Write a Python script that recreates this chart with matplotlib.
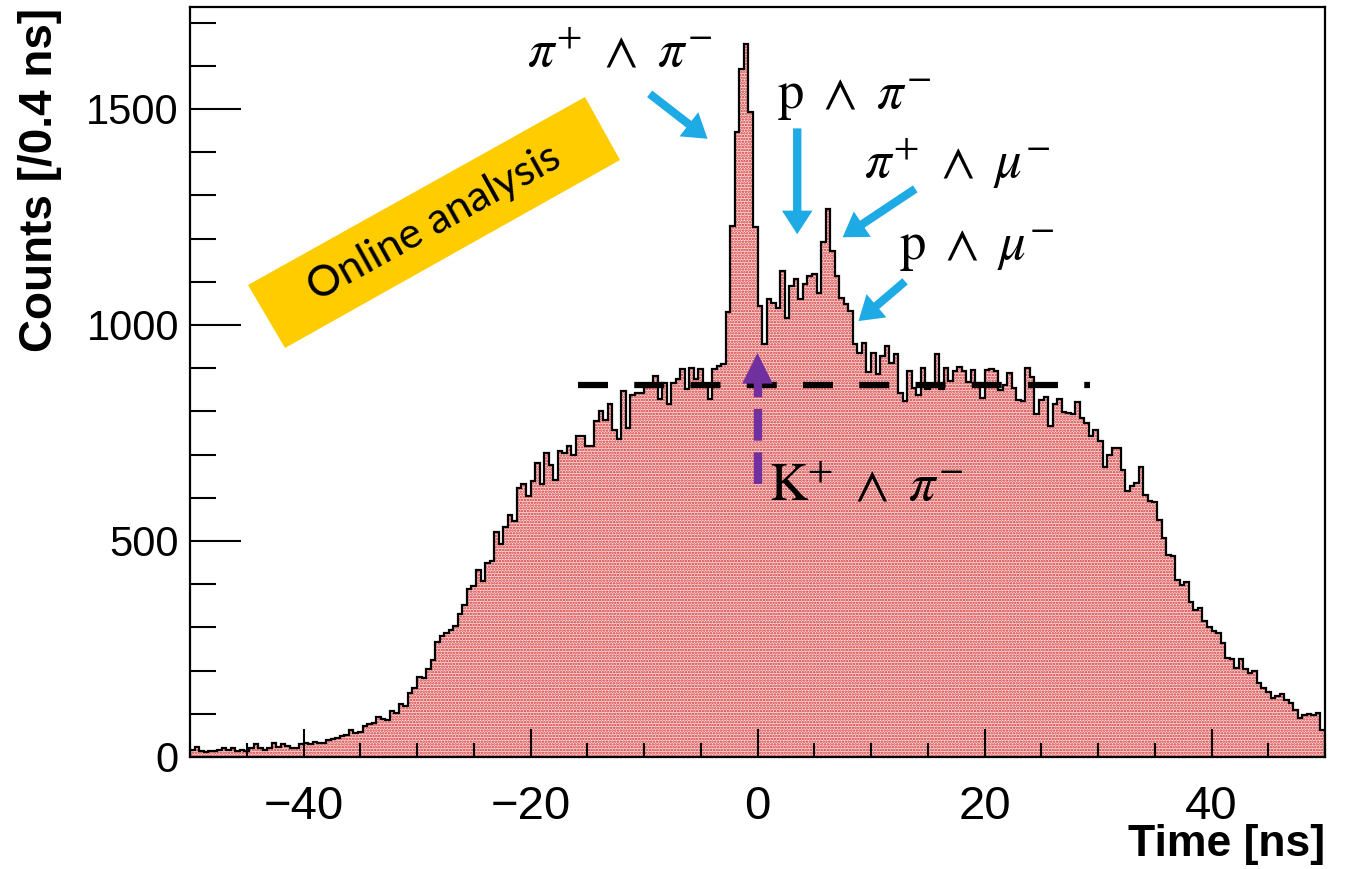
import numpy as np
import matplotlib
matplotlib.use("Agg")
import matplotlib.pyplot as plt
from matplotlib import font_manager
from matplotlib.patches import Polygon
from matplotlib.ticker import MultipleLocator

# histogram: 250 bins of 0.4 ns from -50 ns
t_start = -50.0
bin_width = 0.4
counts = [
    16, 23, 14, 12, 14, 14, 17, 21, 17, 21,
    14, 17, 14, 21, 30, 21, 17, 21, 33, 23,
    30, 26, 21, 21, 30, 32, 30, 35, 32, 32,
    39, 41, 44, 48, 51, 63, 56, 57, 71, 76,
    79, 92, 88, 85, 107, 103, 123, 118, 149, 159,
    186, 182, 203, 225, 267, 279, 287, 294, 304, 332,
    351, 389, 395, 432, 407, 449, 454, 521, 492, 533,
    559, 546, 623, 632, 604, 638, 681, 631, 703, 677,
    641, 708, 704, 720, 700, 743, 743, 720, 720, 778,
    801, 781, 816, 758, 737, 847, 762, 839, 843, 843,
    857, 857, 882, 828, 866, 816, 866, 874, 897, 851,
    901, 874, 897, 862, 828, 897, 905, 909, 1030, 1228,
    1446, 1593, 1651, 1494, 1227, 1045, 955, 1060, 1052, 1040,
    1125, 1017, 1091, 1106, 1060, 1094, 1114, 1118, 1075, 1191,
    1268, 1172, 1114, 1063, 1048, 1033, 955, 936, 959, 890,
    936, 886, 928, 951, 913, 932, 843, 824, 893, 855,
    839, 901, 851, 862, 932, 851, 901, 870, 893, 903,
    893, 868, 896, 866, 832, 896, 899, 893, 849, 862,
    888, 855, 826, 824, 900, 880, 795, 826, 834, 766,
    816, 828, 798, 797, 793, 822, 785, 774, 743, 758,
    731, 672, 700, 716, 716, 665, 615, 627, 635, 672,
    606, 592, 590, 549, 507, 468, 465, 410, 399, 404,
    358, 341, 345, 314, 302, 291, 287, 265, 229, 226,
    206, 226, 203, 194, 200, 171, 159, 151, 136, 141,
    146, 132, 124, 109, 90, 97, 100, 97, 101, 63,
]

# annotations: label, text position, arrow tail, arrow head (data coords)
labels = [r"$\pi^{+}\ \wedge\ \pi^{-}$", r"$\mathrm{p}\ \wedge\ \pi^{-}$",
          r"$\pi^{+}\ \wedge\ \mu^{-}$", r"$\mathrm{p}\ \wedge\ \mu^{-}$"]
label_xy = [(-20.3, 1630), (1.7, 1525), (9.4, 1375), (12.5, 1177)]
arrow_from = [(-9.5, 1535), (3.5, 1455), (13.9, 1315), (13.0, 1101)]
arrow_to = [(-4.4, 1431), (3.5, 1210), (7.5, 1203), (8.9, 1009)]

kaon_label = r"$\mathrm{K}^{+}\ \wedge\ \pi^{-}$"
bg_level = 860
bg_range = (-15.8, 29.3)

edges = t_start + bin_width * np.arange(len(counts) + 1)

names = {f.name for f in font_manager.fontManager.ttflist}
narrow = "Liberation Sans Narrow" if "Liberation Sans Narrow" in names else "Liberation Sans"
plt.rcParams["font.family"] = ["Liberation Sans", "DejaVu Sans"]
plt.rcParams["mathtext.fontset"] = "stix"
plt.rcParams["hatch.linewidth"] = 1.2

fig = plt.figure(figsize=(13.47, 8.69), dpi=100)
ax = fig.add_axes([190 / 1347, 1 - 757 / 869, 1135 / 1347, 750 / 869])

ax.stairs(counts, edges, fill=True, facecolor="#f9e0e0", edgecolor="#d42a2a",
          hatch="......", linewidth=0)
ax.stairs(counts, edges, color="black", linewidth=1.6)

ax.set_xlim(-50, 50)
ax.set_ylim(0, 1736)
ax.xaxis.set_major_locator(MultipleLocator(20))
ax.xaxis.set_minor_locator(MultipleLocator(5))
ax.yaxis.set_major_locator(MultipleLocator(500))
ax.yaxis.set_minor_locator(MultipleLocator(100))
ax.tick_params(axis="both", which="both", direction="in", width=1.5, top=False, right=False)
ax.tick_params(axis="y", which="major", length=37, pad=8, labelsize=30)
ax.tick_params(axis="y", which="minor", length=19)
ax.tick_params(axis="x", which="major", length=20, pad=20, labelsize=34)
ax.tick_params(axis="x", which="minor", length=10)
for lab in ax.get_xticklabels():
    lab.set_family(narrow)
for s in ax.spines.values():
    s.set_linewidth(1.6)

fig.text(40 / 1347, 1 - 8 / 869, "Counts [/0.4 ns]", rotation=90, ha="center", va="top",
         fontsize=33, fontweight="bold", family=narrow)
fig.text(1325 / 1347, 1 - 856 / 869, "Time [ns]", ha="right", va="baseline",
         fontsize=32, fontweight="bold", family=narrow)

# background level
ax.plot(bg_range, [bg_level, bg_level], color="black", lw=4.5, dashes=(4.8, 4.2),
        solid_capstyle="butt", dash_capstyle="butt")

# K+ ^ pi- : dashed purple arrow
ax.plot([0, 0], [631, 880], color="#7030a0", lw=6, dashes=(3.8, 1.4), dash_capstyle="butt")
ax.annotate("", xy=(0, 935), xytext=(0, 870),
            arrowprops=dict(arrowstyle="-|>,head_width=0.55,head_length=1.1",
                            color="#7030a0", lw=0, shrinkA=0, shrinkB=0, mutation_scale=20))
ax.text(1.0, 626, kaon_label, fontsize=38, ha="left", va="center")

for lab, pos, a0, a1 in zip(labels, label_xy, arrow_from, arrow_to):
    ax.text(pos[0], pos[1], lab, fontsize=38, ha="left", va="center")
    ax.annotate("", xy=a1, xytext=a0,
                arrowprops=dict(arrowstyle="simple,head_width=2.2,head_length=1.7,tail_width=0.6",
                                color="#1eaae4", lw=0, shrinkA=0, shrinkB=0, mutation_scale=10))

# yellow "Online analysis" box
box = [(248, 285), (585, 97), (620, 160), (285, 348)]
fig.patches.append(Polygon([(x / 1347, 1 - y / 869) for x, y in box], closed=True,
                           facecolor="#ffcc00", edgecolor="none",
                           transform=fig.transFigure, figure=fig))
fig.text(434 / 1347, 1 - 223 / 869, "Online analysis", rotation=29, rotation_mode="anchor",
         ha="center", va="center", fontsize=31, family=["Lato", "DejaVu Sans"])

fig.savefig("out.png", dpi=100)
